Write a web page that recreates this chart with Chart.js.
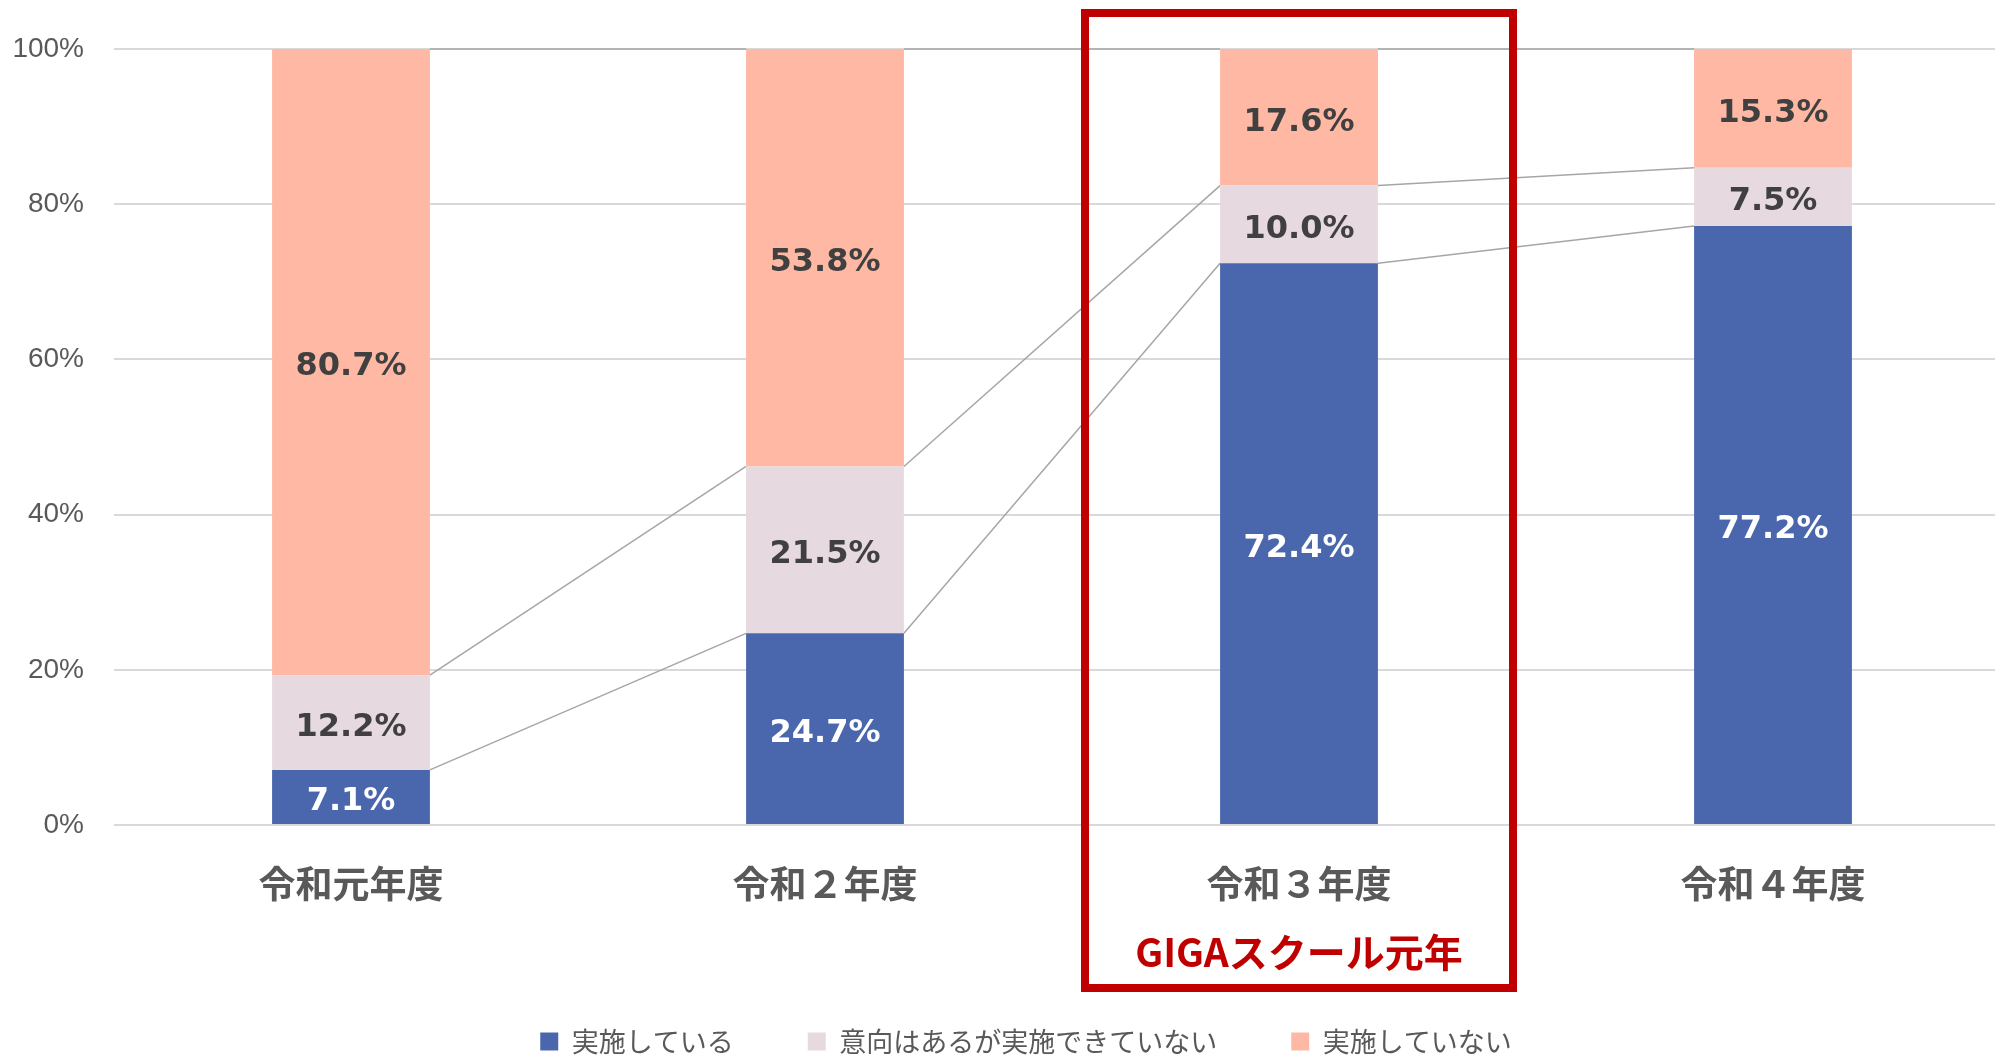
<!DOCTYPE html>
<html>
<head>
<meta charset="utf-8">
<script src="https://cdn.jsdelivr.net/npm/chart.js@4.4.1/dist/chart.umd.min.js"></script>
<style>
  html, body { margin: 0; padding: 0; background: #fff; overflow: hidden; }
  #wrap { width: 2010px; height: 1055px; position: relative; }
</style>
</head>
<body>
<div id="wrap"><canvas id="gigaChart"></canvas></div>
<script>
const years = ["令和元年度", "令和２年度", "令和３年度", "令和４年度"];
const seriesNames = ["実施している", "意向はあるが実施できていない", "実施していない"];
const doing = [7.1, 24.7, 72.4, 77.2];
const willing = [12.2, 21.5, 10.0, 7.5];
const notDoing = [80.7, 53.8, 17.6, 15.3];
const yTicks = [0, 20, 40, 60, 80, 100];
const highlightIndex = 2;
const highlightText = "GIGAスクール元年";

const gray = "#595959";

// lines joining the tops of each segment between neighbouring bars
const seriesLines = {
  id: "seriesLines",
  beforeDatasetsDraw(chart) {
    const ctx = chart.ctx;
    ctx.save();
    ctx.strokeStyle = "#a6a6a6";
    ctx.lineWidth = 1.5;
    chart.data.datasets.forEach((ds, d) => {
      const bars = chart.getDatasetMeta(d).data;
      for (let i = 0; i < bars.length - 1; i++) {
        const a = bars[i].getProps(["x", "y", "width"], true);
        const b = bars[i + 1].getProps(["x", "y", "width"], true);
        ctx.beginPath();
        ctx.moveTo(a.x + a.width / 2, a.y);
        ctx.lineTo(b.x - b.width / 2, b.y);
        ctx.stroke();
      }
    });
    ctx.restore();
  }
};

const valueLabels = {
  id: "valueLabels",
  afterDatasetsDraw(chart) {
    const ctx = chart.ctx;
    ctx.save();
    ctx.font = "bold 32px 'DejaVu Sans'";
    ctx.textAlign = "center";
    ctx.textBaseline = "middle";
    chart.data.datasets.forEach((ds, d) => {
      chart.getDatasetMeta(d).data.forEach((bar, i) => {
        const p = bar.getProps(["x", "y", "base"], true);
        ctx.fillStyle = d === 0 ? "#ffffff" : "#404040";
        ctx.fillText(ds.data[i].toFixed(1) + "%", p.x, (p.y + p.base) / 2 + 5);
      });
    });
    ctx.restore();
  }
};

const highlightBox = {
  id: "highlightBox",
  afterDraw(chart) {
    const ctx = chart.ctx;
    const cx = chart.scales.x.getPixelForValue(highlightIndex);
    ctx.save();
    ctx.strokeStyle = "#c00000";
    ctx.lineWidth = 8;
    ctx.strokeRect(cx - 214, 13, 428, 975);
    ctx.fillStyle = "#c00000";
    ctx.font = "bold 39px 'Noto Sans CJK JP'";
    ctx.textAlign = "center";
    ctx.textBaseline = "middle";
    ctx.fillText(highlightText, cx, 952);
    ctx.restore();
  }
};

// the legend sits a little right of the canvas centre
const legendShift = {
  id: "legendShift",
  afterLayout(chart) {
    chart.legend.left += 21;
    chart.legend.right += 21;
  }
};

const chartData = {
  labels: years,
  datasets: [
    { label: seriesNames[0], data: doing, backgroundColor: "#4a66ac" },
    { label: seriesNames[1], data: willing, backgroundColor: "#e7d9e0" },
    { label: seriesNames[2], data: notDoing, backgroundColor: "#feb8a4" }
  ]
};

const chartConfig = {
  type: "bar",
  data: chartData,
  plugins: [seriesLines, valueLabels, highlightBox, legendShift],
  options: {
    responsive: true,
    maintainAspectRatio: false,
    animation: false,
    datasets: { bar: { barPercentage: 1, categoryPercentage: 0.333 } },
    layout: { padding: { top: 49, left: 0, right: 0, bottom: -10 } },
    plugins: {
      tooltip: { enabled: false },
      legend: {
        position: "bottom",
        labels: {
          boxWidth: 18,
          boxHeight: 18,
          padding: 74,
          color: gray,
          font: { family: "'Noto Sans CJK JP'", size: 27 }
        }
      }
    },
    scales: {
      x: {
        stacked: true,
        grid: { display: false },
        border: { display: false },
        ticks: {
          color: gray,
          padding: 29,
          font: { family: "'Noto Sans CJK JP'", size: 37, weight: "bold" }
        },
        afterFit(scale) { scale.height = 129; }
      },
      y: {
        stacked: true,
        min: 0,
        max: 100,
        afterBuildTicks(scale) { scale.ticks = yTicks.map(v => ({ value: v })); },
        grid: { color: "#d9d9d9", lineWidth: 2, drawTicks: false },
        border: { display: false },
        ticks: {
          color: gray,
          padding: 30,
          font: { family: "'Liberation Sans'", size: 28 },
          callback: v => v + "%"
        },
        afterFit(scale) { scale.width = 114; }
      }
    }
  }
};

const gigaChart = new Chart(document.getElementById("gigaChart"), chartConfig);
</script>
</body>
</html>
